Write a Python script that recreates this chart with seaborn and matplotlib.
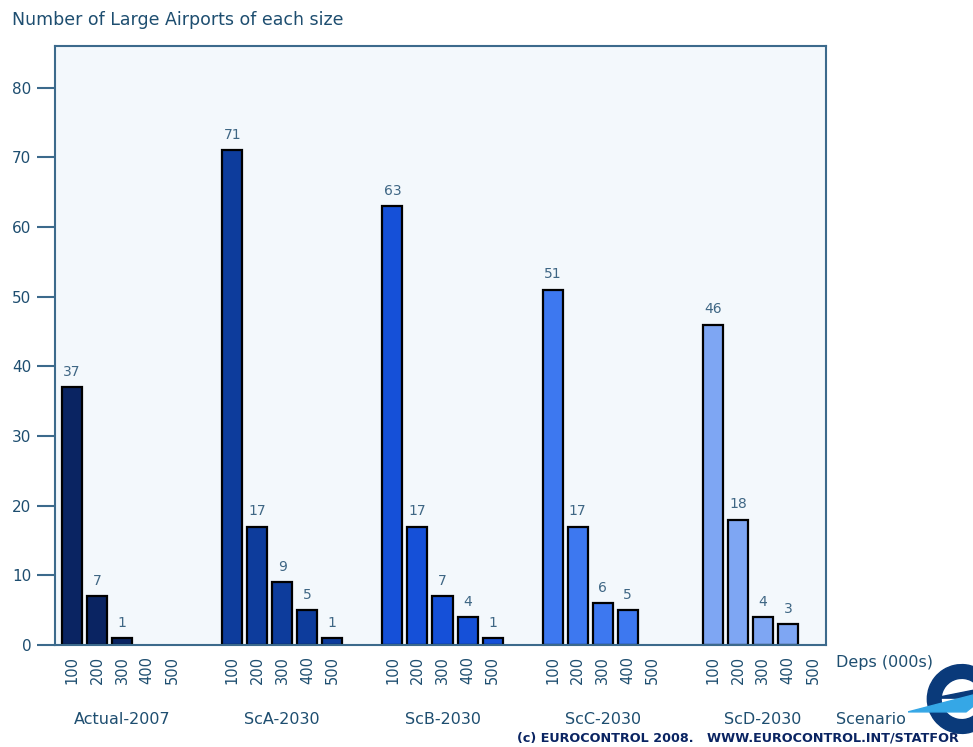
import numpy as np
import pandas as pd
import matplotlib
matplotlib.use("Agg")
import matplotlib.pyplot as plt
import matplotlib.transforms as mtransforms
from matplotlib.patches import Wedge, Polygon
import seaborn as sns

# Data: number of large airports per size band (thousand departures)
scenarios = ["Actual-2007", "ScA-2030", "ScB-2030", "ScC-2030", "ScD-2030"]
size_bands = ["100", "200", "300", "400", "500"]
actual_2007 = [37, 7, 1, 0, 0]
sca_2030 = [71, 17, 9, 5, 1]
scb_2030 = [63, 17, 7, 4, 1]
scc_2030 = [51, 17, 6, 5, 0]
scd_2030 = [46, 18, 4, 3, 0]
y_ticks = [0, 10, 20, 30, 40, 50, 60, 70, 80]

palette = ["#0a2462", "#0d3c9c", "#1550d8", "#3d78f0", "#7ea6f3"]
text_col = "#1e4e70"
spine_col = "#3c6a8c"

group_stride = 6.4
series = [actual_2007, sca_2030, scb_2030, scc_2030, scd_2030]
rows = []
for g, (name, vals) in enumerate(zip(scenarios, series)):
    for i, (band, v) in enumerate(zip(size_bands, vals)):
        rows.append({"pos": g * group_stride + i, "count": v,
                     "scenario": name, "band": band})
df = pd.DataFrame(rows)

sns.set_theme(style="white")
plt.rcParams["font.family"] = ["DejaVu Sans"]

fig = plt.figure(figsize=(9.73, 7.47), dpi=100)
fig.patch.set_facecolor("white")
ax = fig.add_axes([55 / 973, 1 - 645 / 747, (826 - 55) / 973, (645 - 46) / 747])
ax.set_facecolor("#f3f8fc")

drawn = df[df["count"] > 0]
sns.barplot(data=drawn, x="pos", y="count", hue="scenario", hue_order=scenarios,
            palette=palette, saturation=1, native_scale=True, dodge=False,
            width=0.8, edgecolor="black", linewidth=1.6, legend=False, ax=ax)

for _, r in drawn.iterrows():
    ax.text(r["pos"], r["count"] + 1.2, str(r["count"]), ha="center", va="bottom",
            fontsize=10, color="#3e6684")

ax.set_xlim(-0.68, 4 * group_stride + 4 + 0.52)
ax.set_ylim(0, 86)
ax.set_yticks(y_ticks)
ax.set_yticklabels([str(t) for t in y_ticks], fontsize=11, color=text_col)
ax.set_xticks(df["pos"])
ax.set_xticklabels(df["band"], rotation=90, fontsize=10.5, color=text_col)
ax.tick_params(axis="y", which="both", left=True, length=13, width=1.5,
               color=spine_col, pad=4)
ax.tick_params(axis="x", length=0, pad=8)
ax.set_xlabel("")
ax.set_ylabel("")
for s in ax.spines.values():
    s.set_color(spine_col)
    s.set_linewidth(1.5)

# Scenario names below each group
blend = mtransforms.blended_transform_factory(ax.transData, fig.transFigure)
for g, name in enumerate(scenarios):
    fig.text(g * group_stride + 2, 1 - 720 / 747, name, transform=blend,
             ha="center", va="center", fontsize=11.5, color=text_col)

fig.text(12 / 973, 1 - 20 / 747, "Number of Large Airports of each size",
         fontsize=12.5, color=text_col, ha="left", va="center")
fig.text(836 / 973, 1 - 662 / 747, "Deps (000s)", fontsize=11.5,
         color=text_col, ha="left", va="center")
fig.text(836 / 973, 1 - 720 / 747, "Scenario", fontsize=11.5,
         color=text_col, ha="left", va="center")
fig.text(517 / 973, 1 - 738 / 747,
         "(c) EUROCONTROL 2008.   WWW.EUROCONTROL.INT/STATFOR",
         fontsize=9.2, fontweight="bold", color="#0a2462", ha="left", va="center")

# Logo mark in the lower right corner
lax = fig.add_axes([908 / 973, 1 - 742 / 747, 86 / 973, 86 / 747])
lax.set_xlim(-1, 1)
lax.set_ylim(-1, 1)
lax.set_aspect("equal")
lax.axis("off")
lax.add_patch(Wedge((0.25, 0.0), 0.8, 25, 335, width=0.32, color="#0a3a7a"))
lax.add_patch(Polygon([[-0.4, 0.02], [1.0, 0.3], [0.75, 0.02]],
                      closed=True, color="#0a3a7a"))
lax.add_patch(Polygon([[-1.0, -0.3], [1.0, 0.22], [0.35, -0.3]],
                      closed=True, color="#35a7e6"))

fig.savefig("out.png", dpi=100, facecolor="white")
